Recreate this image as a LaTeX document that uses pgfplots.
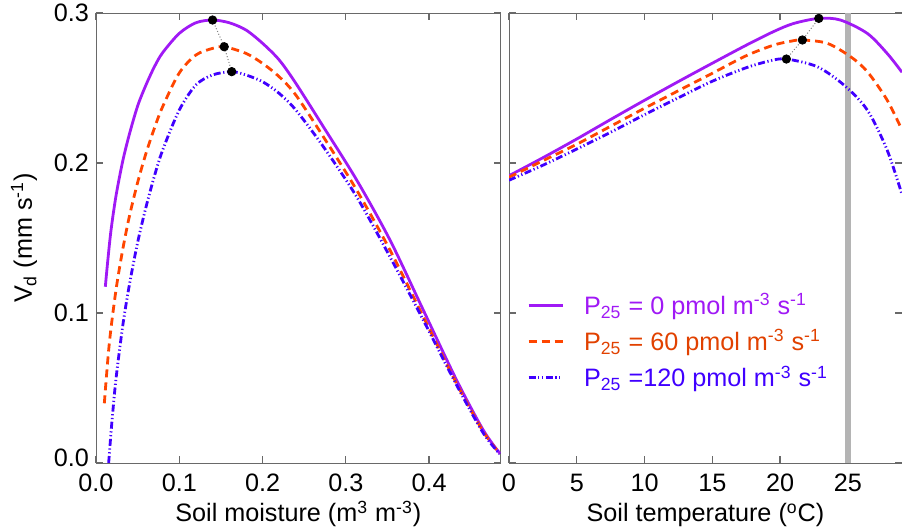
\documentclass[border=0pt]{standalone}
\usepackage{pgfplots}
\pgfplotsset{compat=1.18}
\usepackage{fontspec}
\setmainfont{Liberation Sans}
\definecolor{cpur}{RGB}{160,25,245}
\definecolor{cora}{RGB}{255,69,0}
\definecolor{cblu}{RGB}{64,0,255}
\definecolor{tora}{RGB}{225,65,0}
\definecolor{axgray}{RGB}{105,105,105}
\definecolor{bandgray}{RGB}{180,180,180}
\newcommand{\lfont}{\fontsize{12.6}{15}\selectfont}
\pgfplotsset{
 vdstyle/.style={
  scale only axis, height=225pt, ymin=0, ymax=0.3,
  ytick={0,0.1,0.2,0.3},
  tick align=inside, major tick length=3.5pt,
  axis line style={axgray}, tick style={axgray, line width=0.6pt},
  every tick label/.append style={font=\lfont},
  /pgf/number format/assume math mode=true,
  xtick pos=both, ytick pos=both,
  xticklabel style={yshift=-2pt},
  every axis x label/.style={at={(axis description cs:0.5,-0.131)}, anchor=base, inner sep=0pt, font=\lfont},
 },
 pur/.style={cpur, line width=1.4pt, solid},
 ora/.style={cora, line width=1.4pt, dash pattern=on 4pt off 2.5pt},
 blu/.style={cblu, line width=1.4pt, dash pattern=on 3.5pt off 1.3pt on 0.6pt off 1.3pt on 0.6pt off 1.3pt},
}
\begin{document}
\begin{tikzpicture}
\begin{axis}[vdstyle, at={(0pt,0pt)}, anchor=south west,
  width=202.35pt, xmin=0, xmax=0.486,
  xtick={0,0.1,0.2,0.3,0.4},
  xticklabels={0.0,0.1,0.2,0.3,0.4},
  yticklabels={\raisebox{5pt}{0.0},0.1,0.2,\raisebox{-3.5pt}{0.3}},
  xlabel={Soil moisture (m\textsuperscript{3} m\textsuperscript{-3})},
  ylabel={V\textsubscript{d} (mm s\textsuperscript{-1})},
  every axis y label/.style={at={(axis description cs:-0.178,0.5)}, rotate=90, anchor=center, font=\lfont},
]
\addplot[pur, smooth] coordinates {
(0.0112,0.1175) (0.014,0.134) (0.018,0.155) (0.024,0.178) (0.032,0.201)
(0.040,0.219) (0.050,0.238) (0.060,0.252) (0.070,0.264) (0.080,0.2735)
(0.100,0.2864) (0.120,0.2935) (0.140,0.2953)
(0.160,0.2935) (0.180,0.2887) (0.200,0.2798) (0.220,0.2687) (0.240,0.2531)
(0.273,0.2242) (0.313,0.1887) (0.353,0.1487) (0.393,0.102) (0.433,0.0553)
(0.465,0.022) (0.485,0.0064)};
\addplot[ora, smooth] coordinates {
(0.010,0.0398) (0.016,0.0798) (0.024,0.1153) (0.032,0.142) (0.040,0.1642)
(0.050,0.187) (0.060,0.2064) (0.070,0.223) (0.080,0.2375) (0.100,0.260) (0.120,0.272) (0.140,0.2764)
(0.154,0.2775) (0.180,0.2731) (0.200,0.2664) (0.220,0.2575) (0.240,0.2453)
(0.273,0.2175) (0.313,0.182) (0.353,0.142) (0.393,0.0975) (0.433,0.053)
(0.465,0.021) (0.485,0.0062)};
\addplot[blu, smooth] coordinates {
(0.0152,0.0) (0.018,0.02) (0.020,0.033) (0.024,0.056) (0.032,0.091)
(0.040,0.1185) (0.050,0.147) (0.060,0.1705) (0.070,0.191) (0.080,0.2085) (0.100,0.2353) (0.120,0.252) (0.140,0.2587)
(0.163,0.2609) (0.180,0.2587) (0.200,0.2542) (0.220,0.2464) (0.240,0.2353)
(0.273,0.2109) (0.313,0.1775) (0.353,0.1375) (0.393,0.0953) (0.433,0.052)
(0.465,0.020) (0.485,0.006)};
\addplot[gray, densely dotted, line width=0.5pt] coordinates {(0.140,0.2953) (0.154,0.2775) (0.163,0.2609)};
\addplot[only marks, mark=*, mark size=2.1pt, black] coordinates {(0.140,0.2953) (0.154,0.2775) (0.163,0.2609)};
\end{axis}
\begin{axis}[vdstyle, at={(206.5pt,0pt)}, anchor=south west,
  width=196.5pt, xmin=0, xmax=29,
  xtick={0,5,10,15,20,25},
  yticklabels={},
  xlabel={Soil temperature (\textsuperscript{o}C)},
  legend style={at={(axis description cs:0.03,0.395)}, anchor=north west, draw=none, fill=none,
    font=\lfont, row sep=2pt},
  legend cell align=left,
]
\addplot[bandgray, line width=3pt, forget plot] coordinates {(25,0) (25,0.3)};
\addplot[pur, smooth] coordinates {
(0,0.1915) (2.5,0.2035) (5,0.216) (7.5,0.229) (10,0.2418) (12.5,0.2543)
(15,0.2665) (17.5,0.2785) (19.5,0.2875) (21,0.293) (22.86,0.2964)
(24.46,0.2953) (26.44,0.2864) (27.9,0.2731) (29,0.2605)};
\addlegendentry{\hspace*{8pt}\textcolor{cpur}{P\textsubscript{25} = 0 pmol m\textsuperscript{-3} s\textsuperscript{-1}}}
\addplot[ora, smooth] coordinates {
(0,0.1905) (2.5,0.2015) (5,0.2125) (7.5,0.2245) (10,0.2365) (12.5,0.2482)
(15,0.2598) (17.5,0.2715) (19.5,0.2785) (20.8,0.2812) (21.65,0.282) (23.48,0.2798)
(25.2,0.2709) (26.44,0.2609) (27.9,0.242) (29,0.222)};
\addlegendentry{\hspace*{8pt}\textcolor{tora}{P\textsubscript{25} = 60 pmol m\textsuperscript{-3} s\textsuperscript{-1}}}
\addplot[blu, smooth] coordinates {
(0,0.1885) (2.5,0.1985) (5,0.2093) (7.5,0.2205) (10,0.2322) (12.5,0.2435)
(15,0.2545) (17.5,0.2635) (19.3,0.2682) (20.47,0.2693) (22.74,0.2642)
(24.71,0.252) (26.44,0.2353) (27.9,0.2087) (29,0.179)};
\addlegendentry{\hspace*{8pt}\textcolor{cblu}{P\textsubscript{25} =120 pmol m\textsuperscript{-3} s\textsuperscript{-1}}}
\addplot[gray, densely dotted, line width=0.5pt, forget plot] coordinates {(22.86,0.2964) (21.65,0.282) (20.47,0.2693)};
\addplot[only marks, mark=*, mark size=2.1pt, black, forget plot] coordinates {(22.86,0.2964) (21.65,0.282) (20.47,0.2693)};
\end{axis}
\pgfresetboundingbox
\path (-48pt,-33pt) rectangle (403pt,231.5pt);
\end{tikzpicture}
\end{document}
